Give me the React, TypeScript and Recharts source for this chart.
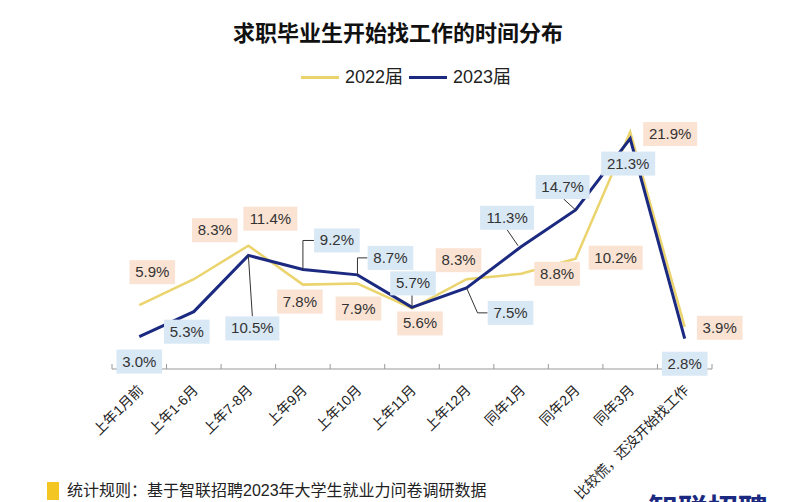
import React from "react";
import { LineChart, Line, XAxis, YAxis, LabelList } from "recharts";

const categories = [
  "上年1月前",
  "上年1-6月",
  "上年7-8月",
  "上年9月",
  "上年10月",
  "上年11月",
  "上年12月",
  "同年1月",
  "同年2月",
  "同年3月",
  "比较慌，还没开始找工作",
];
const values2022 = [5.9, 8.3, 11.4, 7.8, 7.9, 5.6, 8.3, 8.8, 10.2, 21.9, 3.9];
const values2023 = [3.0, 5.3, 10.5, 9.2, 8.7, 5.7, 7.5, 11.3, 14.7, 21.3, 2.8];
const seriesNames = ["2022届", "2023届"];

const data = categories.map((name, i) => ({
  name,
  y2022: values2022[i],
  y2023: values2023[i],
}));

// label box placement relative to each point (styling only)
const offsets2022: [number, number][] = [
  [13, -33], [21, -49], [22, -27], [-3, 17], [1, 25], [8, 15],
  [-8, -19], [36, 0], [40, -1], [40, 2], [35, 1],
];
const offsets2023: [number, number][] = [
  [0, 25], [-7, 20], [4, 73], [34, -29], [33, -17], [1, -24],
  [44, 25], [-14, -29], [-13, -23], [-2, 25], [0, 25],
];
const leaders2023: ([number, number][] | null)[] = [
  null,
  null,
  [[0, 0], [4, 61]],
  [[0, 0], [0, -29], [11, -29]],
  [[0, 0], [0, -17], [10, -17]],
  [[0, 0], [0, -12]],
  [[0, 0], [11, 25], [21, 25]],
  [[-3, -1], [-14, -17]],
  [[0, 0], [-12, -11]],
  null,
  null,
];

const YELLOW = "#ebd46e";
const NAVY = "#1b2a80";
const FONT = "'Liberation Sans', 'Noto Sans CJK SC', sans-serif";

const makeLabel =
  (offsets: [number, number][], leaders: any[] | null, fill: string) =>
  (props: any) => {
    const { x, y, value, index } = props;
    const [dx, dy] = offsets[index];
    const text = `${Number(value).toFixed(1)}%`;
    const w = text.length * 8.4 + 12;
    const cx = x + dx;
    const cy = y + dy;
    const leader = leaders ? leaders[index] : null;
    return (
      <g>
        {leader && (
          <polyline
            points={leader.map(([a, b]: number[]) => `${x + a},${y + b}`).join(" ")}
            fill="none"
            stroke="#333"
            strokeWidth={1}
          />
        )}
        <rect x={cx - w / 2} y={cy - 12} width={w} height={24} fill={fill} />
        <text
          x={cx}
          y={cy + 5}
          textAnchor="middle"
          fontSize={15}
          fontFamily={FONT}
          fill="#333"
        >
          {text}
        </text>
      </g>
    );
  };

const BAND = 54.55;

const AxisTick = (props: any) => {
  const { x, y, payload, index } = props;
  const last = index === categories.length - 1;
  const ax = x + 5;
  const ay = y + 22;
  return (
    <g>
      <line x1={x - BAND / 2} x2={x - BAND / 2} y1={y} y2={y - 5} stroke="#999" />
      {last && <line x1={x + BAND / 2} x2={x + BAND / 2} y1={y} y2={y - 5} stroke="#999" />}
      <text
        x={ax}
        y={ay}
        textAnchor="end"
        transform={`rotate(-45, ${ax}, ${ay})`}
        fontSize={14}
        fontFamily={FONT}
        fill="#222"
      >
        {payload.value}
      </text>
    </g>
  );
};

export default function App() {
  return (
    <div
      style={{
        position: "relative",
        width: 796,
        height: 502,
        overflow: "hidden",
        background: "#fff",
        fontFamily: FONT,
      }}
    >
      <style>{"body{margin:0}"}</style>
      <div
        style={{
          position: "absolute",
          top: 17,
          left: 0,
          width: 796,
          textAlign: "center",
          fontSize: 22,
          fontWeight: "bold",
          color: "#111",
          fontFamily: "'Noto Sans CJK SC', sans-serif",
          lineHeight: "28px",
        }}
      >
        求职毕业生开始找工作的时间分布
      </div>
      <div
        style={{
          position: "absolute",
          top: 64,
          left: 301,
          display: "flex",
          alignItems: "center",
          fontSize: 18,
          color: "#222",
          lineHeight: "26px",
        }}
      >
        <span style={{ display: "inline-block", width: 38, height: 3, background: YELLOW, marginRight: 6 }} />
        <span style={{ marginRight: 6 }}>{seriesNames[0]}</span>
        <span style={{ display: "inline-block", width: 38, height: 3, background: NAVY, marginRight: 6 }} />
        <span>{seriesNames[1]}</span>
      </div>

      <div style={{ position: "absolute", top: 0, left: 0 }}>
        <LineChart
          width={796}
          height={502}
          data={data}
          margin={{ top: 131, right: 84, bottom: 0, left: 112 }}
        >
          <XAxis
            dataKey="name"
            interval={0}
            padding={{ left: BAND / 2, right: BAND / 2 }}
            stroke="#999"
            tickLine={false}
            tickSize={0}
            tickMargin={0}
            tick={<AxisTick />}
            height={133}
          />
          <YAxis hide domain={[0, 22]} />
          <Line
            dataKey="y2022"
            stroke={YELLOW}
            strokeWidth={2.5}
            dot={false}
            isAnimationActive={false}
          >
            <LabelList dataKey="y2022" content={makeLabel(offsets2022, null, "#fbe3d3")} />
          </Line>
          <Line
            dataKey="y2023"
            stroke={NAVY}
            strokeWidth={3}
            dot={false}
            isAnimationActive={false}
          >
            <LabelList dataKey="y2023" content={makeLabel(offsets2023, leaders2023, "#d9e8f5")} />
          </Line>
        </LineChart>
      </div>

      <div
        style={{
          position: "absolute",
          left: 47,
          top: 482,
          width: 12,
          height: 18,
          background: "#f3c623",
        }}
      />
      <div
        style={{
          position: "absolute",
          left: 67,
          top: 479,
          fontSize: 16,
          color: "#222",
          lineHeight: "24px",
          whiteSpace: "nowrap",
        }}
      >
        统计规则：基于智联招聘2023年大学生就业力问卷调研数据
      </div>
      <div
        style={{
          position: "absolute",
          left: 648,
          top: 489,
          fontSize: 30,
          fontWeight: "bold",
          color: NAVY,
          lineHeight: "36px",
          fontFamily: "'Noto Sans CJK SC', sans-serif",
          whiteSpace: "nowrap",
        }}
      >
        智联招聘
      </div>
    </div>
  );
}
